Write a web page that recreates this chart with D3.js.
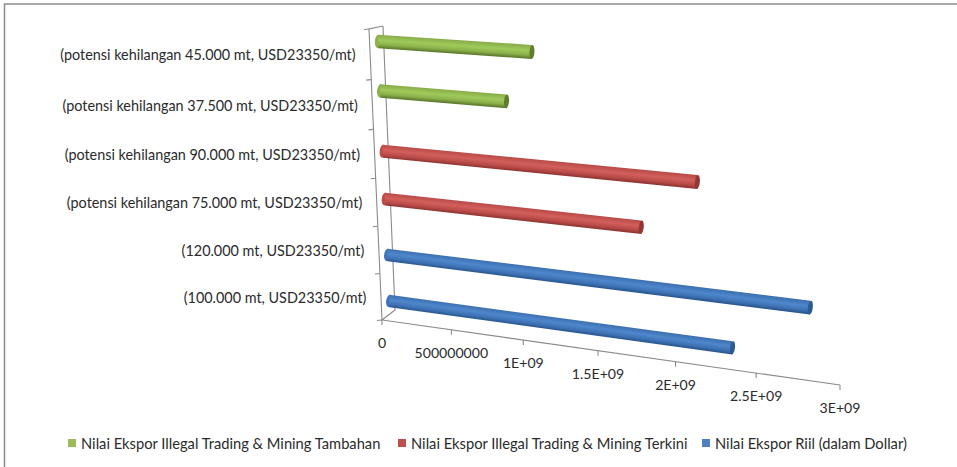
<!DOCTYPE html>
<html>
<head>
<meta charset="utf-8">
<script src="https://cdn.jsdelivr.net/npm/d3@7/dist/d3.min.js"></script>
<style>
  html, body { margin: 0; padding: 0; background: #fff; }
  svg { display: block; }
  text { font-family: Lato, "Open Sans", sans-serif; fill: #2b2b2b; }
</style>
</head>
<body>
<svg id="chart" width="957" height="467"></svg>
<script>
// Chart content
const categories = [
  "(100.000 mt, USD23350/mt)",
  "(120.000 mt, USD23350/mt)",
  "(potensi kehilangan 75.000 mt, USD23350/mt)",
  "(potensi kehilangan 90.000 mt, USD23350/mt)",
  "(potensi kehilangan 37.500 mt, USD23350/mt)",
  "(potensi kehilangan 45.000 mt, USD23350/mt)"
];
const seriesNames = [
  "Nilai Ekspor Riil (dalam Dollar)",
  "Nilai Ekspor Illegal Trading & Mining Terkini",
  "Nilai Ekspor Illegal Trading & Mining Tambahan"
];
const riilValues     = [2335000000, 2802000000, null, null, null, null];
const terkiniValues  = [null, null, 1751250000, 2101500000, null, null];
const tambahanValues = [null, null, null, null, 875625000, 1050750000];
const valueTicks = [0, 500000000, 1000000000, 1500000000, 2000000000, 2500000000, 3000000000];
const valueTickLabels = ["0", "500000000", "1E+09", "1.5E+09", "2E+09", "2.5E+09", "3E+09"];
const legendOrder = [2, 1, 0];

// Styling per series: cylinder shading from upper edge to lower edge, and the legend key
const seriesShades = [
  ["#3b6fae", "#4f87cc", "#3f74b6", "#27548c"],
  ["#b84a47", "#d25f5b", "#bb4c49", "#8c3331"],
  ["#86ab47", "#9fca5b", "#8bb14b", "#587528"]
];
const seriesCaps = ["#2c5a94", "#933734", "#5f7e2d"];
const legendKeys = ["#4f81bd", "#c0504d", "#9bbb59"];
const axisColor = "#8a8a8a";
const categorySize = 14.4, valueSize = 14.1, legendSize = 14.7;

// Scales into the unit box of the 3-D plot
const valueScale = d3.scaleLinear().domain([0, 3000000000]).range([0, 1]);
const catScale = d3.scaleBand().domain(d3.range(categories.length)).range([0, 1]);
const slotScale = d3.scaleOrdinal().domain([0, 1, 2]).range([-0.036, -0.004, 0.036]);

// Perspective projection of the box: origin, three edge vectors, three foreshortening terms
const origin = [382, 320];
const edgeU = [458, 65];
const edgeV = [-13, -291];
const edgeD = [13, -10];
const gU = -0.1075, gV = -0.05, gD = 0.025;
function project(u, v, d) {
  const w = 1 + gU * u + gV * v + gD * d;
  return [0, 1].map(i => origin[i] +
    (u * (1 + gU) * edgeU[i] + v * (1 + gV) * edgeV[i] + d * (1 + gD) * edgeD[i]) / w);
}

const svg = d3.select("#chart");
const defs = svg.append("defs");
const line = d3.line();

// Chart frame: only the upper and left edges are visible
svg.append("path")
  .attr("d", line([[4.5, 467], [4.5, 4], [957, 4]]))
  .attr("fill", "none").attr("stroke", "#8c8c8c").attr("stroke-width", 1.5);

// Axis lines
const axes = svg.append("g").attr("fill", "none").attr("stroke", axisColor).attr("stroke-width", 1.1);
axes.append("path").attr("d", line([project(0, 1, 1), project(0, 0, 1), project(0, 0, 0), project(1, 0, 0)]));
axes.append("path").attr("d", line([project(0, 1, 1), project(0, 1, 0), project(0, 0, 0)]));

// Category axis ticks and labels
d3.range(categories.length + 1).forEach(i => {
  const p = project(0, i / categories.length, 0);
  axes.append("path").attr("d", line([[p[0] - 5, p[1] + 0.5], p]));
});
svg.append("g").selectAll("text").data(categories).join("text")
  .attr("x", (d, i) => project(0, catScale(i) + catScale.bandwidth() / 2, 0)[0] - 14.5)
  .attr("y", (d, i) => project(0, catScale(i) + catScale.bandwidth() / 2, 0)[1] + 1)
  .attr("dy", "0.35em")
  .attr("text-anchor", "end")
  .attr("font-size", categorySize)
  .text(d => d);

// Value axis ticks and labels
valueTicks.forEach((t, i) => {
  const p = project(valueScale(t), 0, 0);
  axes.append("path").attr("d", line([p, [p[0], p[1] + 5]]));
  svg.append("text")
    .attr("x", p[0]).attr("y", p[1] + 23).attr("dy", "0.35em")
    .attr("text-anchor", "middle").attr("font-size", valueSize)
    .text(valueTickLabels[i]);
});

// Cylinders
const barDepth = 0.6, barRadius = 0.0225;
const allSeries = [riilValues, terkiniValues, tambahanValues];
const bars = svg.append("g");
allSeries.forEach((values, s) => {
  values.forEach((value, c) => {
    if (value === null) return;
    const v = catScale(c) + catScale.bandwidth() / 2 + slotScale(s);
    const uEnd = valueScale(value);
    const a = project(0, v, barDepth), b = project(uEnd, v, barDepth);
    const aTop = project(0, v + barRadius, barDepth), aBot = project(0, v - barRadius, barDepth);
    const bTop = project(uEnd, v + barRadius, barDepth), bBot = project(uEnd, v - barRadius, barDepth);
    const angle = Math.atan2(b[1] - a[1], b[0] - a[0]);
    const capRy = (h, k) => Math.hypot(h[0] - k[0], h[1] - k[1]) / 2;
    const rA = capRy(aTop, aBot), rB = capRy(bTop, bBot);

    // Shading runs square across the cylinder's axis, so it stays even along its length
    const mid = [(a[0] + b[0]) / 2, (a[1] + b[1]) / 2];
    const r = (rA + rB) / 2;
    const nx = -Math.sin(angle) * r, ny = Math.cos(angle) * r;
    const id = "cyl-" + s + "-" + c;
    const grad = defs.append("linearGradient").attr("id", id)
      .attr("gradientUnits", "userSpaceOnUse")
      .attr("x1", mid[0] - nx).attr("y1", mid[1] - ny)
      .attr("x2", mid[0] + nx).attr("y2", mid[1] + ny);
    [0, 0.4, 0.72, 1].forEach((o, k) => {
      grad.append("stop").attr("offset", o).attr("stop-color", seriesShades[s][k]);
    });

    const deg = angle * 180 / Math.PI;
    bars.append("ellipse")
      .attr("rx", 3.2).attr("ry", rA)
      .attr("transform", `translate(${a[0]},${a[1]}) rotate(${deg})`)
      .attr("fill", seriesShades[s][2]);
    bars.append("path")
      .attr("d", line([aTop, bTop, bBot, aBot]) + "Z")
      .attr("fill", `url(#${id})`);
    bars.append("ellipse")
      .attr("rx", 2.5).attr("ry", rB)
      .attr("transform", `translate(${b[0]},${b[1]}) rotate(${deg})`)
      .attr("fill", seriesCaps[s]);
  });
});

// Legend
const legendX = [68, 398, 702];
const legend = svg.append("g");
legendOrder.forEach((s, i) => {
  legend.append("rect")
    .attr("x", legendX[i]).attr("y", 439).attr("width", 8).attr("height", 8)
    .attr("fill", legendKeys[s]);
  legend.append("text")
    .attr("x", legendX[i] + 13).attr("y", 444).attr("dy", "0.35em")
    .attr("font-size", legendSize)
    .text(seriesNames[s]);
});
</script>
</body>
</html>
